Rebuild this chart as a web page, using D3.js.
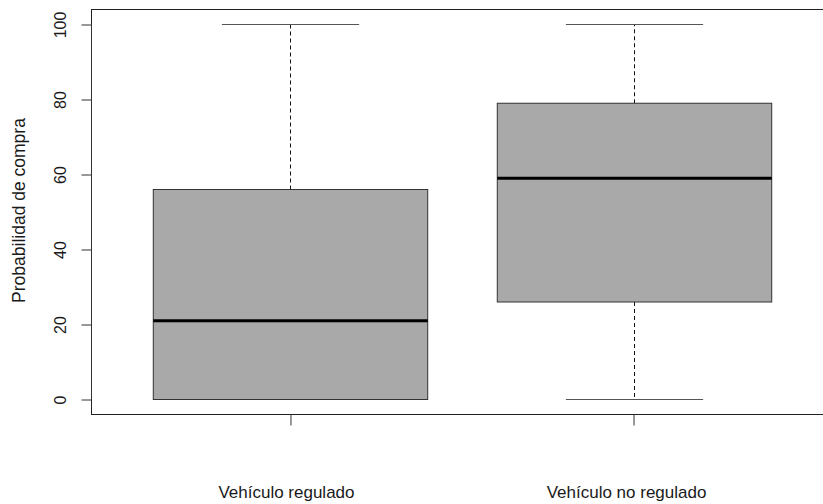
<!DOCTYPE html>
<html>
<head>
<meta charset="utf-8">
<script src="https://cdn.jsdelivr.net/npm/d3@7"></script>
<style>
  html, body { margin: 0; padding: 0; background: #fff; }
  svg { display: block; }
  text { font-family: "Liberation Sans", Arial, sans-serif; fill: #1a1a1a; }
</style>
</head>
<body>
<svg id="chart" width="823" height="504"></svg>
<script>
const categories = ["Vehículo regulado", "Vehículo no regulado"];
const mins    = [0, 0];
const q1s     = [0, 26];
const medians = [21, 59];
const q3s     = [56, 79];
const maxs    = [100, 100];
const yTicks  = [0, 20, 40, 60, 80, 100];
const yLabel  = "Probabilidad de compra";

(function () {
const svg = d3.select("#chart");
const pLeft = 91.5, pTop = 9.5, pBottom = 414.5, pRight = 832.5;

const x = d3.scaleLinear().domain([0.42, 2.58]).range([pLeft, pRight]);
const y = d3.scaleLinear().domain([-4, 104]).range([pBottom, pTop]);
const unit = x(2) - x(1);
const boxW = 0.8 * unit, capW = 0.4 * unit;

const data = categories.map((c, i) => ({
  name: c, pos: i + 1, min: mins[i], q1: q1s[i], med: medians[i], q3: q3s[i], max: maxs[i]
}));

// plot frame
svg.append("rect")
  .attr("x", pLeft).attr("y", pTop)
  .attr("width", pRight - pLeft).attr("height", pBottom - pTop)
  .attr("fill", "none").attr("stroke", "#222").attr("stroke-width", 1);

const g = svg.append("g");
data.forEach(d => {
  const cx = Math.round(x(d.pos)) + 0.5;
  // whiskers
  g.append("line").attr("x1", cx).attr("x2", cx)
    .attr("y1", y(d.q3)).attr("y2", y(d.max))
    .attr("stroke", "#111").attr("stroke-dasharray", "4,3");
  g.append("line").attr("x1", cx).attr("x2", cx)
    .attr("y1", y(d.q1)).attr("y2", y(d.min))
    .attr("stroke", "#111").attr("stroke-dasharray", "4,3");
  // caps
  [d.min, d.max].forEach(v => {
    g.append("line").attr("x1", cx - capW / 2).attr("x2", cx + capW / 2)
      .attr("y1", y(v)).attr("y2", y(v))
      .attr("stroke", "#555").attr("stroke-width", 1);
  });
  // box
  g.append("rect")
    .attr("x", cx - boxW / 2).attr("y", y(d.q3))
    .attr("width", boxW).attr("height", y(d.q1) - y(d.q3))
    .attr("fill", "#a9a9a9").attr("stroke", "#333").attr("stroke-width", 1);
  // median
  g.append("line").attr("x1", cx - boxW / 2).attr("x2", cx + boxW / 2)
    .attr("y1", y(d.med)).attr("y2", y(d.med))
    .attr("stroke", "#000").attr("stroke-width", 3);
});

// y axis
const yAxis = svg.append("g").attr("transform", `translate(${pLeft},0)`)
  .call(d3.axisLeft(y).tickValues(yTicks).tickSize(10).tickPadding(0).tickFormat(d3.format("d")));
yAxis.select(".domain").attr("stroke", "#333").attr("d", `M0,${y(0)}V${y(100)}`);
yAxis.selectAll(".tick line").attr("stroke", "#333");
yAxis.selectAll(".tick text")
  .attr("x", null).attr("dy", null)
  .attr("transform", "translate(-31,0) rotate(-90)")
  .attr("text-anchor", "middle").attr("dominant-baseline", "central")
  .style("font-size", "16px").style("font-family", "Liberation Sans, Arial, sans-serif").attr("fill", "#1a1a1a");

// x axis ticks
const xAxis = svg.append("g").attr("transform", `translate(0,${pBottom})`)
  .call(d3.axisBottom(x).tickValues([1, 2]).tickSize(11).tickFormat(""));
xAxis.select(".domain").remove();
xAxis.selectAll(".tick line").attr("stroke", "#333");

// category labels
const labelShift = [-4, -7];
svg.append("g").selectAll("text").data(data).join("text")
  .attr("x", d => x(d.pos)).attr("dx", (d, i) => labelShift[i]).attr("y", 497.5)
  .attr("text-anchor", "middle")
  .style("font-size", "17px")
  .text(d => d.name);

// y label
svg.append("text")
  .attr("transform", `translate(24.5,${(pTop + pBottom) / 2 - 1.5}) rotate(-90)`)
  .attr("text-anchor", "middle")
  .style("font-size", "17.5px")
  .text(yLabel);
})();
</script>
</body>
</html>
